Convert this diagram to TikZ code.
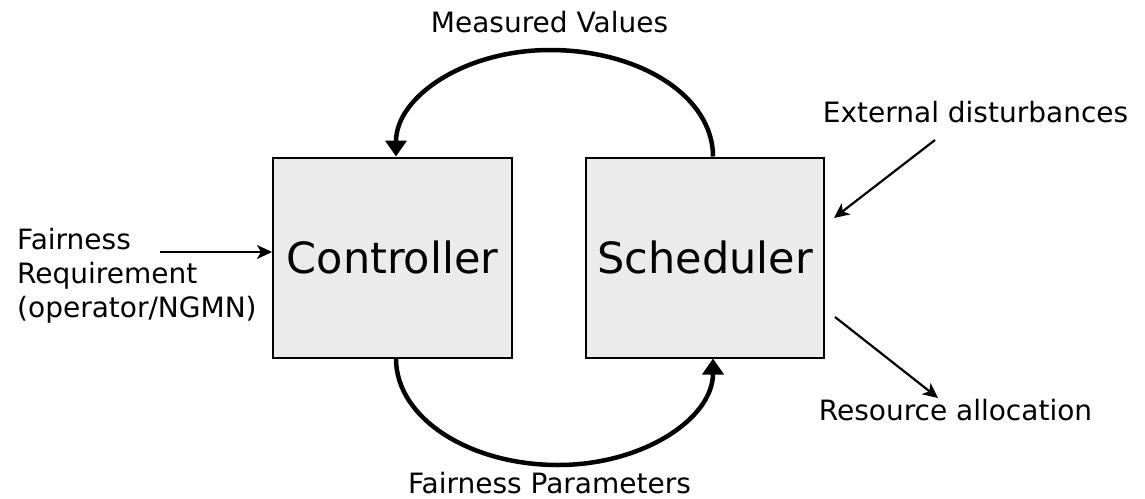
\documentclass[tikz,border=0pt]{standalone}
\usepackage{fontspec}
\setmainfont{DejaVu Sans}
\usetikzlibrary{arrows.meta,calc}
\definecolor{boxfill}{HTML}{EBEBEB}
\tikzset{
  block/.style={draw=black, line width=2pt, fill=boxfill, minimum height=200pt, inner sep=0pt, font=\fontsize{43}{50}\selectfont},
  lbl/.style={font=\fontsize{28}{34}\selectfont, inner sep=0pt},
  loop/.style={line width=4.5pt, -{Triangle[width=21pt,length=16pt]}},
  thin/.style={line width=2.2pt, -{Stealth[width=14pt,length=15pt,inset=4pt]}}
}
\begin{document}
\begin{tikzpicture}[x=1pt,y=-1pt]
\useasboundingbox (0,0) rectangle (1145,498);
\node[block, minimum width=239pt] (ctrl) at (392.5,257.5) {Controller};
\node[block, minimum width=238pt] (sch) at (705,257.5) {Scheduler};
\node[lbl, anchor=base] (mv) at (549.5,32) {Measured Values};
\node[lbl, anchor=base, text depth=0pt] (fp) at (549.5,493) {Fairness Parameters};
\node[lbl, anchor=base] (ed) at (975.5,122) {External disturbances};
\node[lbl, anchor=base] (ra) at (955.5,420) {Resource allocation};
\node[lbl, anchor=west, align=left] (fr) at (17,276) {Fairness\\Requirement\\(operator/NGMN)};
\coordinate (schtop) at ($(sch.north)+(8,0)$);
\coordinate (ctrltop) at ($(ctrl.north)+(3.5,0)$);
\coordinate (schbot) at ($(sch.south)+(8,0)$);
\coordinate (ctrlbot) at ($(ctrl.south)+(3.5,0)$);
\coordinate (toppk) at (550,50);
\coordinate (botpk) at (558,465);
\draw[loop] (schtop) .. controls ($(schtop)+(0,-60)$) and ($(toppk)+(90,0)$) .. (toppk)
  .. controls ($(toppk)+(-85,0)$) and ($(ctrltop)+(0,-60)$) .. (ctrltop);
\draw[loop] (ctrlbot) .. controls ($(ctrlbot)+(0,60)$) and ($(botpk)+(-88,0)$) .. (botpk)
  .. controls ($(botpk)+(85,0)$) and ($(schbot)+(0,60)$) .. (schbot);
\coordinate (fin) at (160,252);
\draw[thin] (fin) -- (fin -| ctrl.west);
\coordinate (ds) at (935,140);
\coordinate (de) at (834,218);
\draw[thin] (ds) -- (de);
\coordinate (rs) at (835,317);
\coordinate (re) at (938,398);
\draw[thin] (rs) -- (re);
\end{tikzpicture}
\end{document}
